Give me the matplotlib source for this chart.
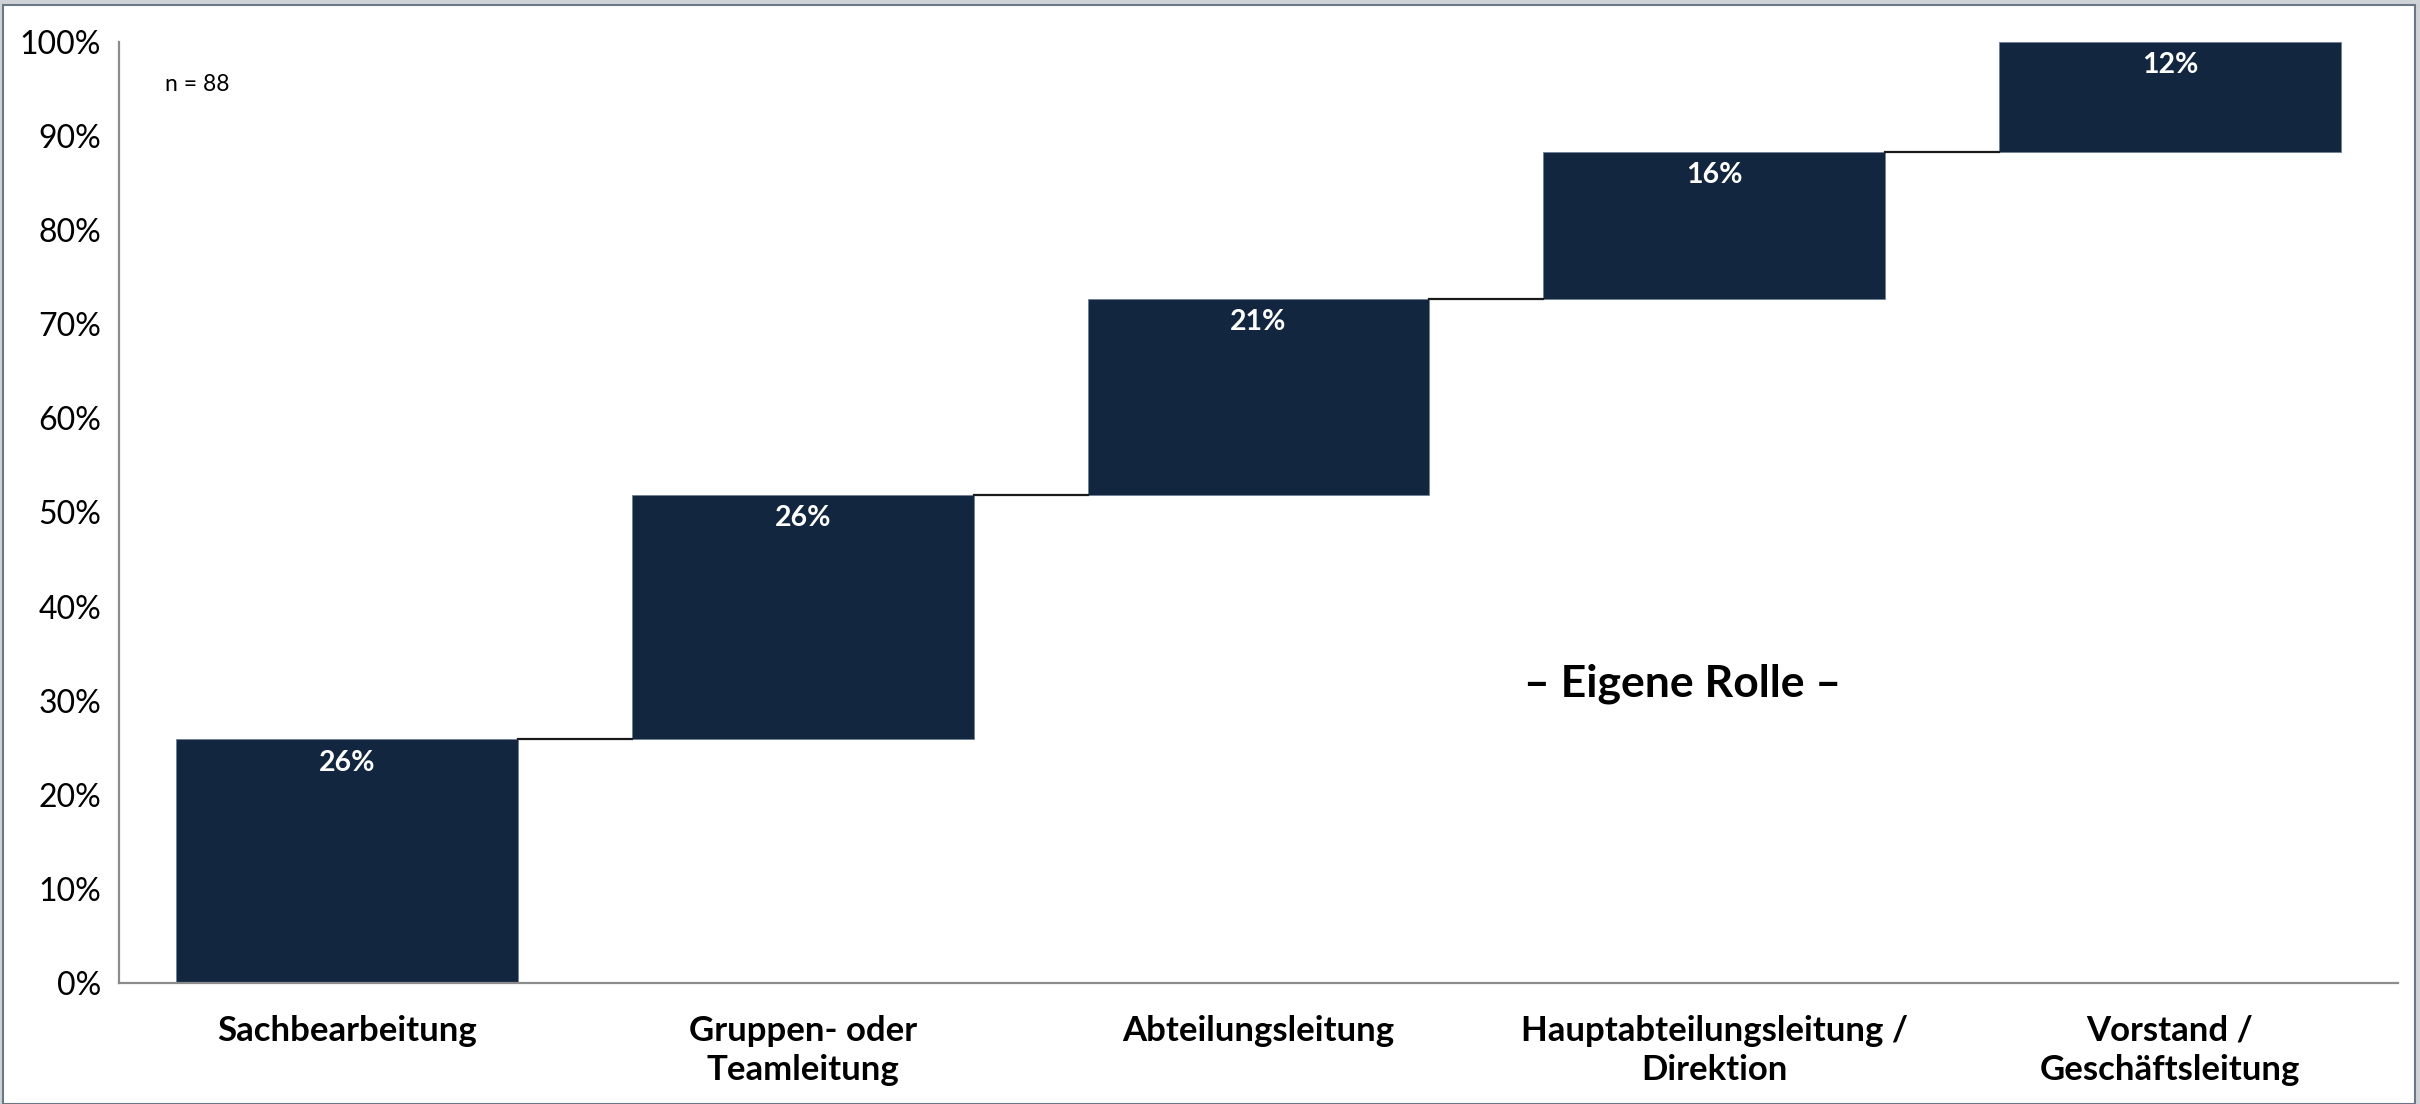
import matplotlib.pyplot as plt
from matplotlib.patches import Rectangle
import numpy as np

# Data: share of respondents per role (n = 88), stacked as a waterfall
categories = ["Sachbearbeitung", "Gruppen- oder\nTeamleitung", "Abteilungsleitung",
              "Hauptabteilungsleitung /\nDirektion", "Vorstand /\nGeschäftsleitung"]
shares = [25.9, 26.0, 20.8, 15.6, 11.7]
value_labels = ["26%", "26%", "21%", "16%", "12%"]
y_ticks = [0, 10, 20, 30, 40, 50, 60, 70, 80, 90, 100]

plt.rcParams['font.family'] = ['Lato', 'DejaVu Sans']

bar_color = "#12263f"

fig = plt.figure(figsize=(24.2, 11.04), dpi=100)
fig.patch.set_facecolor("#cfd3d7")
# white panel with thin frame like the original slide
fig.patches.append(Rectangle((3 / 2420, 0), 2412 / 2420, 1099 / 1104,
                             transform=fig.transFigure, facecolor="white",
                             edgecolor="#6b7785", linewidth=1.5, zorder=-10))

ax = fig.add_axes([119 / 2420, 121 / 1104, 2279 / 2420, 941 / 1104])
ax.set_facecolor("none")

x = np.arange(len(categories))
bottoms = np.concatenate([[0], np.cumsum(shares)[:-1]])
tops = bottoms + np.array(shares)
width = 0.75

ax.bar(x, shares, bottom=bottoms, width=width, color=bar_color,
       edgecolor="#6f8096", linewidth=0.6, zorder=2)

# connector lines between consecutive bars
for i in range(len(categories) - 1):
    ax.plot([x[i] + width / 2, x[i + 1] - width / 2], [tops[i], tops[i]],
            color="#1a1a1a", linewidth=1.6, zorder=3)

for xi, top, lab in zip(x, tops, value_labels):
    ax.text(xi, top - 1.1, lab, ha="center", va="top", color="white",
            fontsize=20.5, fontweight="bold", zorder=4)

ax.set_xlim(-0.5, 4.5)
ax.set_ylim(0, 100)
ax.set_yticks(y_ticks)
ax.set_yticklabels([f"{v}%" for v in y_ticks], fontsize=23)
ax.set_xticks(x)
ax.set_xticklabels(categories, fontsize=25, fontweight="bold", linespacing=1.28)
ax.tick_params(axis="y", length=0, pad=13)
ax.tick_params(axis="x", length=0, pad=23)

for side in ["top", "right"]:
    ax.spines[side].set_visible(False)
for side in ["left", "bottom"]:
    ax.spines[side].set_color("#8c8c8c")
    ax.spines[side].set_linewidth(1.6)

ax.text(0.02, 0.955, "n = 88", transform=ax.transAxes, fontsize=16.5,
        ha="left", va="center")
ax.text(2.93, 31.8, "\u2013 Eigene Rolle \u2013", fontsize=32, fontweight="bold",
        ha="center", va="center")

fig.savefig("out.png", dpi=100, facecolor=fig.get_facecolor())
